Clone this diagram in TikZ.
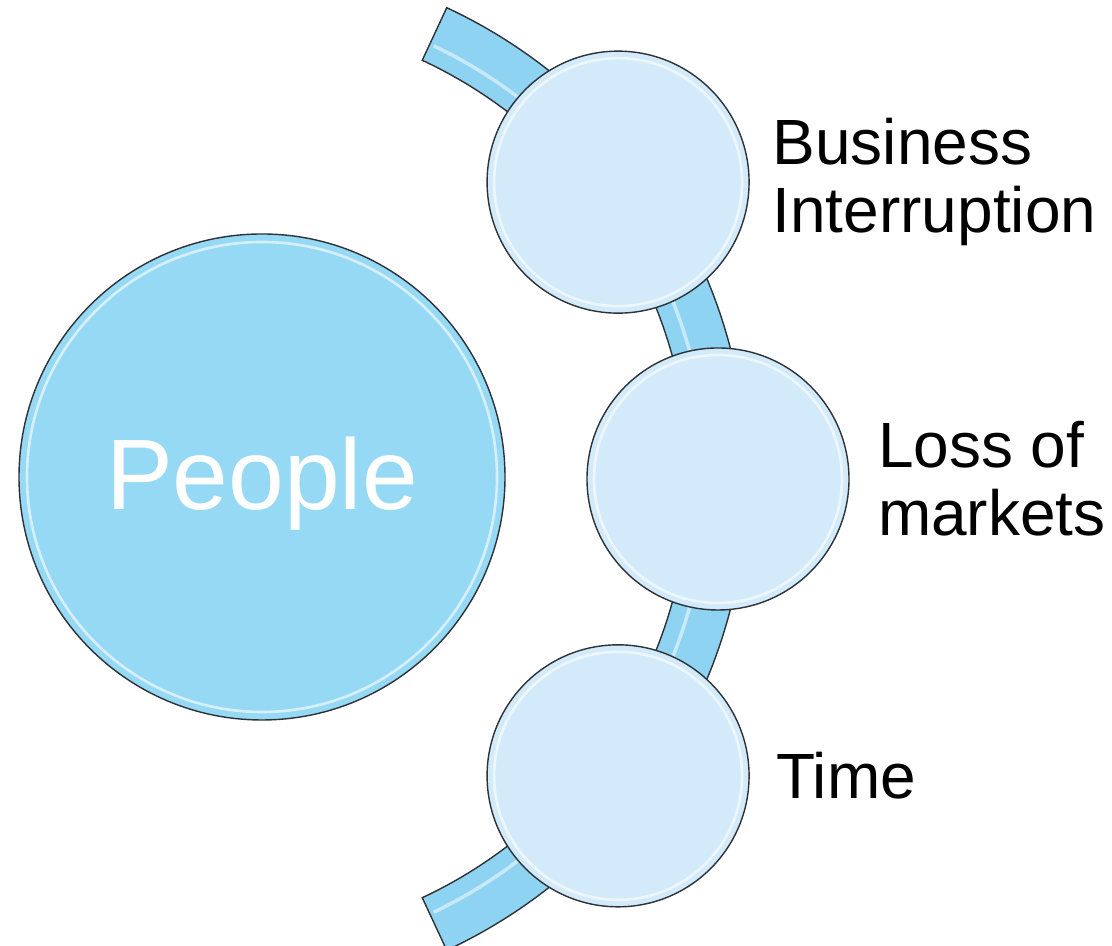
\documentclass[tikz,border=0pt]{standalone}
\usepackage{fontspec}
\setmainfont{Liberation Sans}
\usetikzlibrary{positioning}

\definecolor{peopleblue}{RGB}{150,217,245}
\definecolor{bubbleblue}{RGB}{210,234,249}
\definecolor{bandblue}{RGB}{143,211,242}
\definecolor{rimgray}{RGB}{45,50,55}

\begin{document}
\begin{tikzpicture}[node distance = 0.5cm, auto]
    \tikzstyle{big} = [circle, draw=rimgray, line width=0.8pt, fill=peopleblue,
    minimum size=9.72cm, inner sep=0pt, text=white, text depth=0.14cm, font=\fontsize{57}{60}\selectfont,
    path picture={\draw[white, opacity=0.6, line width=1.5pt] (path picture bounding box.center) circle (4.70cm);}]
    \tikzstyle{bubble} = [circle, draw=rimgray, line width=0.8pt, fill=bubbleblue,
    minimum size=5.24cm, inner sep=0pt,
    path picture={\draw[white, opacity=0.6, line width=1.5pt] (path picture bounding box.center) circle (2.48cm);}]
    \tikzstyle{band} = [draw=rimgray, line width=0.8pt, fill=bandblue]
    \tikzstyle{tag} = [inner sep=0pt, align=left, font=\fontsize{36.4}{38.7}\selectfont]
    \useasboundingbox (0,0) rectangle (22.24,18.92);
    \coordinate (hub) at (4.54,9.34);
    % curved band behind the bubbles
    \path [band] ([shift={(65:9.24)}]hub) arc [start angle=65, end angle=-65, radius=9.24]
        -- ([shift={(-65:10.40)}]hub) arc [start angle=-65, end angle=65, radius=10.40] -- cycle;
    \draw [white, opacity=0.5, line width=2pt] ([shift={(64.5:9.6)}]hub) arc [start angle=64.5, end angle=-64.5, radius=9.6];
    \node [big] (people) at (5.24,9.38) {People};
    \node [bubble] (biz) at ([shift={(37.2:9.82)}]hub) {};
    \node [bubble] (markets) at ([shift={(0:9.82)}]hub) {};
    \node [bubble] (time) at ([shift={(-37.2:9.82)}]hub) {};
    \node [tag, right=0.45cm of biz] (bizlabel) {Business\\Interruption};
    \node [tag, right=0.56cm of markets] (marketslabel) {Loss of\\markets};
    \node [tag, right=0.52cm of time] (timelabel) {Time};
\end{tikzpicture}
\end{document}
